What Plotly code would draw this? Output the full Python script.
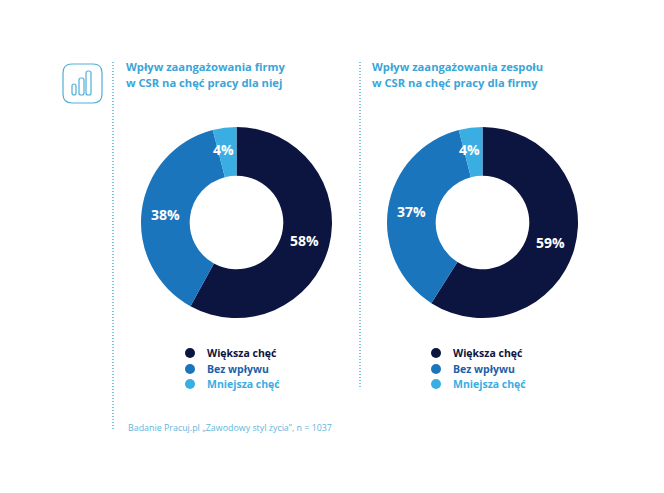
import math
import plotly.graph_objects as go

W, H = 664, 493
labels = ["Większa chęć", "Bez wpływu", "Mniejsza chęć"]
values_left = [58, 38, 4]
values_right = [59, 37, 4]
colors = ["#0c1440", "#1b75bc", "#3aaee2"]
title_left = ["Wpływ zaangażowania firmy", "w CSR na chęć pracy dla niej"]
title_right = ["Wpływ zaangażowania zespołu", "w CSR na chęć pracy dla firmy"]
source = "Badanie Pracuj.pl „Zawodowy styl życia”, n = 1037"
TITLE = "#3aa5d8"
FONT = "Open Sans"


def px(x):
    return x / W


def py(y):
    return 1 - y / H


def pie(values, x0, x1):
    return go.Pie(
        labels=labels, values=values, sort=False, direction="clockwise", rotation=0,
        hole=0.49, marker=dict(colors=colors, line=dict(width=0)),
        textinfo="none",
        domain=dict(x=[px(x0), px(x1)], y=[py(318), py(127)]),
        showlegend=False, hoverinfo="label+percent",
    )


fig = go.Figure([pie(values_left, 141, 332), pie(values_right, 387, 578)])

ann = []
shapes = []


def text(x, y, s, size, color, bold=True, anchor="left"):
    ann.append(dict(x=px(x - 2 if anchor == "left" else x), y=py(y), xref="paper", yref="paper",
                    text=s, showarrow=False,
                    xanchor=anchor, yanchor="middle", align="left",
                    font=dict(family=FONT, size=size, color=color, weight="bold" if bold else "normal")))


for x, lines in [(126, title_left), (372, title_right)]:
    text(x, 66, lines[0], 11.2, TITLE)
    text(x, 83, lines[1], 11.2, TITLE)
text(128, 427, source, 8.9, "#5fb6dc", bold=False)

# Slice labels sit at the middle of each ring segment.
for cx, values in [(236, values_left), (482, values_right)]:
    total = sum(values)
    cum = 0
    for v in values:
        ang = 2 * math.pi * (cum + v / 2) / total
        cum += v
        r = 74 if v < 10 else 71
        dx = -3 if v < 10 else 0
        text(cx + dx + r * math.sin(ang), 222 - r * math.cos(ang) + 1, f"{v}%", 14, "white", anchor="center")

legend_colors = ["#0c1440", "#1b5fa8", "#3aaee2"]
for cx, tx in [(190, 207), (436, 453)]:
    for i, (lab, col, y) in enumerate(zip(labels, legend_colors, [353, 369, 384])):
        shapes.append(dict(type="circle", xref="paper", yref="paper",
                           x0=px(cx - 5), x1=px(cx + 5), y0=py(y + 5), y1=py(y - 5),
                           fillcolor=colors[i], line=dict(width=0)))
        text(tx, y, lab, 10.5, col)

for x, y1 in [(113, 430), (360, 388)]:
    shapes.append(dict(type="line", xref="paper", yref="paper", x0=px(x), x1=px(x),
                       y0=py(62), y1=py(y1),
                       line=dict(color="#4fb0d8", width=1.5, dash="1px,2px")))


def rrect(x0, y0, x1, y1, r, color, width):
    pts = (f"M {px(x0 + r)} {py(y0)} L {px(x1 - r)} {py(y0)} "
           f"Q {px(x1)} {py(y0)} {px(x1)} {py(y0 + r)} L {px(x1)} {py(y1 - r)} "
           f"Q {px(x1)} {py(y1)} {px(x1 - r)} {py(y1)} L {px(x0 + r)} {py(y1)} "
           f"Q {px(x0)} {py(y1)} {px(x0)} {py(y1 - r)} L {px(x0)} {py(y0 + r)} "
           f"Q {px(x0)} {py(y0)} {px(x0 + r)} {py(y0)} Z")
    shapes.append(dict(type="path", xref="paper", yref="paper", path=pts,
                       line=dict(color=color, width=width)))


rrect(63, 64, 102, 103, 9, "#4fb0d8", 1.2)
rrect(72, 84, 76, 95, 2, "#4fb0d8", 1.2)
rrect(79, 78, 84, 95, 2, "#4fb0d8", 1.2)
rrect(86, 71, 91, 95, 2, "#4fb0d8", 1.2)

fig.update_layout(width=W, height=H, margin=dict(l=0, r=0, t=0, b=0),
                  paper_bgcolor="white", plot_bgcolor="white",
                  annotations=ann, shapes=shapes)
fig.write_html("out.html", post_script="document.body.style.margin='0';",
               config={"displayModeBar": False})
